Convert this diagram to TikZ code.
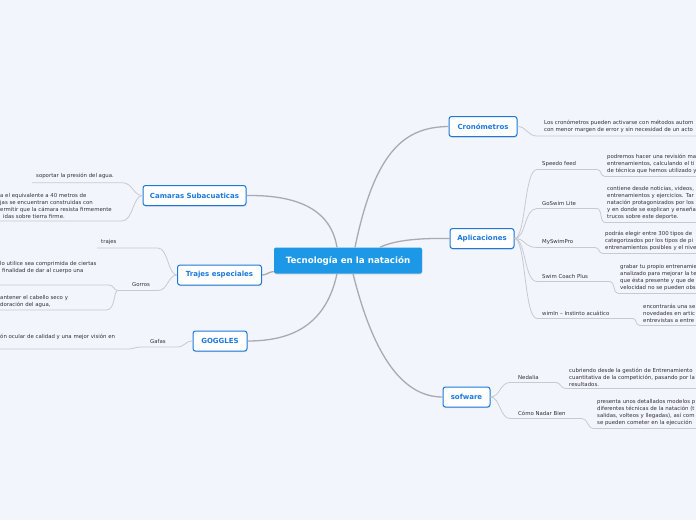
\documentclass[tikz,border=0pt]{standalone}
\usepackage{fontspec}
\setmainfont{DejaVu Sans}
\usetikzlibrary{shadows}
\definecolor{bgcol}{RGB}{243,245,252}
\definecolor{rootblue}{RGB}{28,152,230}
\definecolor{topicblue}{RGB}{26,120,222}
\definecolor{mainline}{RGB}{170,170,175}
\definecolor{subline}{RGB}{200,202,210}
\definecolor{leaftext}{RGB}{50,50,55}
\tikzset{
  rootbox/.style={fill=rootblue, text=white, font=\fontsize{8.7}{10}\selectfont\bfseries,
    rounded corners=2pt, minimum width=148pt, minimum height=26pt, inner sep=0pt,
    drop shadow={opacity=0.2, shadow xshift=0.3pt, shadow yshift=-1pt}},
  topicbox/.style={fill=white, draw=topicblue, line width=1pt, text=topicblue,
    font=\fontsize{7}{8}\selectfont\bfseries, rounded corners=2.5pt, minimum height=20pt, inner sep=0pt,
    drop shadow={opacity=0.25, shadow xshift=0.4pt, shadow yshift=-1.2pt}},
  leaf/.style={font=\fontsize{5.4}{7}\selectfont, text=leaftext, align=left, inner sep=0pt, anchor=west},
  trunk/.style={draw=mainline, line width=1.3pt},
  twig/.style={draw=subline, line width=0.8pt},
}
\begin{document}
\begin{tikzpicture}[x=1pt,y=-1pt]
\useasboundingbox (0,0) rectangle (696,520);
\fill[bgcol] (0,0) rectangle (696,520);
\clip (0,0) rectangle (696,520);

% ---------- main nodes ----------
\node[rootbox] (root) at (348,260.5) {Tecnología en la natación};
\node[topicbox, minimum width=68pt] (cro) at (483,126.5) {Cronómetros};
\node[topicbox, minimum width=64pt] (apl) at (482,238.5) {Aplicaciones};
\node[topicbox, minimum width=47pt] (sof) at (466.5,397) {sofware};
\node[topicbox, minimum width=103pt] (cam) at (194.5,195.5) {Camaras Subacuaticas};
\node[topicbox, minimum width=84pt] (tra) at (219.5,275) {Trajes especiales};
\node[topicbox, minimum width=54pt] (gog) at (220,341) {GOGGLES};

% ---------- trunk connectors (drawn on top of nothing important) ----------
\begin{scope}[on background layer/.style={}]
\end{scope}

% ---------- leaf texts: right side ----------
\node[leaf] (crot) at (544,126.7) {Los cronómetros pueden activarse con métodos autom\\con menor margen de error y sin necesidad de un acto};

\node[leaf] (spl) at (542,164) {Speedo feed};
\node[leaf] (spt) at (607,164) {podremos hacer una revisión ma\\entrenamientos, calculando el ti\\de técnica que hemos utilizado y};
\node[leaf] (gsl) at (542,203) {GoSwim Lite};
\node[leaf] (gst) at (607,203) {contiene desde noticias, videos,\\entrenamientos y ejercicios. Tar\\natación protagonizados por los\\y en donde se explican y enseña\\trucos sobre este deporte.};
\node[leaf] (msl) at (542,242) {MySwimPro};
\node[leaf] (mst) at (605,241) {podrás elegir entre 300 tipos de\\categorizados por los tipos de pi\\entrenamientos posibles y el nive};
\node[leaf] (scl) at (542,276) {Swim Coach Plus};
\node[leaf] (sct) at (620,277.5) {grabar tu propio entrenamient\\analizado para mejorar la te\\que ésta presente y que de\\velocidad no se pueden obs};
\node[leaf] (wil) at (542,313) {wimIn – Instinto acuático};
\node[leaf] (wit) at (643,313) {encontrarás una se\\novedades en artic\\entrevistas a entre};

\node[leaf] (ndl) at (518,377) {Nedalia};
\node[leaf] (ndt) at (569,377) {cubriendo desde la gestión de Entrenamiento\\cuantitativa de la competición, pasando por la\\resultados.};
\node[leaf] (cnl) at (518,413) {Cómo Nadar Bien};
\node[leaf] (cnt) at (597,413) {presenta unos detallados modelos p\\diferentes técnicas de la natación (t\\salidas, volteos y llegadas), así com\\se pueden cometer en la ejecución};

% ---------- leaf texts: left side ----------
\node[leaf] (cat1) at (36,176) {soportar la presión del agua.};
\node[leaf] (cat2) at (0,205.5) {a el equivalente a 40 metros de\\jas se encuentran construidas con\\ermitir que la cámara resista firmemente\\\hspace*{3pt}idas sobre tierra firme.};
\node[leaf] (trl) at (101,242) {trajes};
\node[leaf] (gol) at (132,285) {Gorros};
\node[leaf] (got1) at (0,268) {lo utilice sea comprimida de ciertas\\\hspace*{2pt}finalidad de dar al cuerpo una};
\node[leaf] (got2) at (0,301.5) {antener el cabello seco y\\doración del agua,};
\node[leaf] (gal) at (150,341) {Gafas};
\node[leaf] (gat) at (0,337) {ón ocular de calidad y una mejor visión en};

% ---------- underline coordinates ----------
\coordinate (croA) at (537,136);   \coordinate (croB) at (700,136);
\coordinate (spA) at (537,169.5);  \coordinate (spB) at (597,169.5);
\coordinate (spC) at (605,176.5);  \coordinate (spD) at (700,176.5);
\coordinate (gsA) at (537,208.5);  \coordinate (gsB) at (597,208.5);
\coordinate (gsC) at (605,222.5);  \coordinate (gsD) at (700,222.5);
\coordinate (msA) at (537,247.5);  \coordinate (msB) at (595,247.5);
\coordinate (msC) at (603,253.5);  \coordinate (msD) at (700,253.5);
\coordinate (scA) at (537,281.5);  \coordinate (scB) at (610,281.5);
\coordinate (scC) at (618,293.5);  \coordinate (scD) at (700,293.5);
\coordinate (wiA) at (537,318.5);  \coordinate (wiB) at (633,318.5);
\coordinate (wiC) at (640,325.5);  \coordinate (wiD) at (700,325.5);
\coordinate (ndA) at (510,382.5);  \coordinate (ndB) at (556,382.5);
\coordinate (ndC) at (566,388.5);  \coordinate (ndD) at (700,388.5);
\coordinate (cnA) at (510,418.5);  \coordinate (cnB) at (582,418.5);
\coordinate (cnC) at (594,428.5);  \coordinate (cnD) at (700,428.5);

\coordinate (c1A) at (122,182.7);  \coordinate (c1B) at (32,182.7);
\coordinate (c2A) at (122,221);    \coordinate (c2B) at (-5,221);
\coordinate (trA) at (158,248);    \coordinate (trB) at (97,248);
\coordinate (goA) at (158,290.5);  \coordinate (goB) at (118,290.5);
\coordinate (g1A) at (108,285);    \coordinate (g1B) at (-5,285);
\coordinate (g2A) at (106,310);    \coordinate (g2B) at (-5,310);
\coordinate (gaA) at (177,347);    \coordinate (gaB) at (141,347);
\coordinate (gtA) at (128,349);    \coordinate (gtB) at (-5,349);

% ---------- trunk connectors ----------
\draw[trunk] ([xshift=7pt]root.north) .. controls (375,150) and (405,127) .. (cro.west);
\draw[trunk] ([xshift=32pt]root.north) .. controls (395,240) and (420,238) .. (apl.west);
\draw[trunk] ([xshift=5pt]root.south) .. controls (372,350) and (400,397) .. (sof.west);
\draw[trunk] ([xshift=-11pt]root.north) .. controls (330,205) and (290,195) .. (cam.east);
\draw[trunk] ([yshift=-11pt]root.west) .. controls (268,272) and (267,275) .. (tra.east);
\draw[trunk] ([xshift=-11pt]root.south) .. controls (325,330) and (285,341) .. (gog.east);

% ---------- twig connectors: right ----------
\draw[twig] (cro.east) .. controls (527,126.5) and (527,136) .. (croA) -- (croB);

\draw[twig] (apl.east) .. controls (526,238.5) and (524,169.5) .. (spA) -- (spB)
  .. controls (602,169.5) and (600,176.5) .. (spC) -- (spD);
\draw[twig] (apl.east) .. controls (526,238.5) and (524,208.5) .. (gsA) -- (gsB)
  .. controls (602,208.5) and (600,222.5) .. (gsC) -- (gsD);
\draw[twig] (apl.east) .. controls (526,238.5) and (524,247.5) .. (msA) -- (msB)
  .. controls (600,247.5) and (598,253.5) .. (msC) -- (msD);
\draw[twig] (apl.east) .. controls (526,238.5) and (524,281.5) .. (scA) -- (scB)
  .. controls (615,281.5) and (613,293.5) .. (scC) -- (scD);
\draw[twig] (apl.east) .. controls (526,238.5) and (524,318.5) .. (wiA) -- (wiB)
  .. controls (637,318.5) and (635,325.5) .. (wiC) -- (wiD);

\draw[twig] (sof.east) .. controls (500,397) and (500,382.5) .. (ndA) -- (ndB)
  .. controls (561,382.5) and (560,388.5) .. (ndC) -- (ndD);
\draw[twig] (sof.east) .. controls (500,397) and (500,418.5) .. (cnA) -- (cnB)
  .. controls (588,418.5) and (587,428.5) .. (cnC) -- (cnD);

% ---------- twig connectors: left ----------
\draw[twig] (cam.west) .. controls (133,195.5) and (133,182.7) .. (c1A) -- (c1B);
\draw[twig] (cam.west) .. controls (133,195.5) and (133,221) .. (c2A) -- (c2B);

\draw[twig] (tra.west) .. controls (168,275) and (168,248) .. (trA) -- (trB);
\draw[twig] (tra.west) .. controls (168,275) and (168,290.5) .. (goA) -- (goB);
\draw[twig] (goB) .. controls (113,290.5) and (115,285) .. (g1A) -- (g1B);
\draw[twig] (goB) .. controls (113,290.5) and (116,310) .. (g2A) -- (g2B);

\draw[twig] (gog.west) .. controls (185,341) and (185,347) .. (gaA) -- (gaB)
  .. controls (135,347) and (134,349) .. (gtA) -- (gtB);
\end{tikzpicture}
\end{document}
